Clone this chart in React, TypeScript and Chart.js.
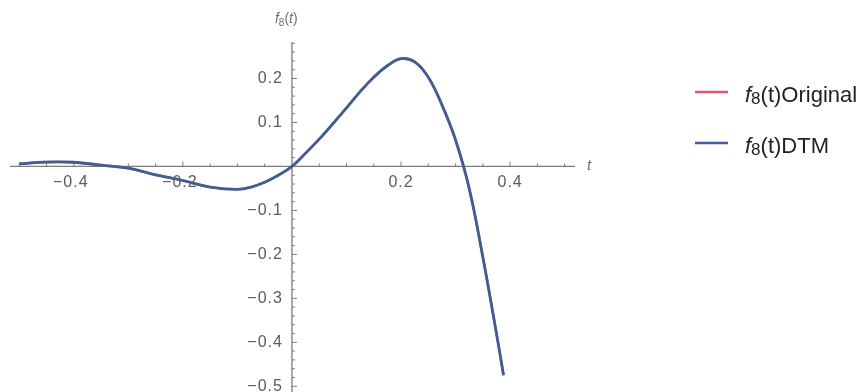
import React, { useEffect, useRef } from "react";
import { Chart, registerables } from "chart.js";

Chart.register(...registerables);

// ---- data ----
const tValues = [
  -0.5, -0.45, -0.4, -0.35, -0.3, -0.25, -0.2, -0.15, -0.1, -0.075, -0.05, -0.025,
  0, 0.025, 0.05, 0.075, 0.1, 0.125, 0.15, 0.175, 0.2, 0.225, 0.25, 0.275, 0.3,
  0.325, 0.35, 0.375, 0.388,
];
const f8Original = [
  0.006, 0.01, 0.0095, 0.003, -0.004, -0.019, -0.032, -0.047, -0.052, -0.047,
  -0.036, -0.02, 0, 0.03, 0.062, 0.097, 0.133, 0.17, 0.203, 0.229, 0.245, 0.238,
  0.203, 0.14, 0.06, -0.05, -0.206, -0.38, -0.475,
];
const f8DTM = [
  0.006, 0.01, 0.0095, 0.003, -0.004, -0.019, -0.032, -0.047, -0.052, -0.047,
  -0.036, -0.02, 0, 0.03, 0.062, 0.097, 0.133, 0.17, 0.203, 0.229, 0.245, 0.238,
  0.203, 0.14, 0.06, -0.05, -0.206, -0.38, -0.475,
];
const seriesNames = ["Original", "DTM"];
const seriesColors = ["#d9606b", "#3f5f92"];
const xTickLabels = [-0.4, -0.2, 0.2, 0.4];
const yTickLabels = [-0.5, -0.4, -0.3, -0.2, -0.1, 0.1, 0.2];
const xMinorStep = 0.05;
const xMajorEvery = 4;
const yMinorStep = 0.02;
const yMajorEvery = 5;
const X_MIN = -0.517;
const X_MAX = 0.519;
const Y_MIN = -0.513;
const Y_MAX = 0.283;

const FONT = '"Liberation Sans", Arial, sans-serif';

type Part = { t: string; font: string; dy?: number };

function drawRich(ctx: CanvasRenderingContext2D, x: number, baseline: number, parts: Part[]) {
  let cx = x;
  ctx.textBaseline = "alphabetic";
  ctx.textAlign = "left";
  for (const p of parts) {
    ctx.font = p.font;
    ctx.fillText(p.t, cx, baseline + (p.dy || 0));
    cx += ctx.measureText(p.t).width;
  }
}

function fmt(v: number) {
  return v < 0 ? "\u2212" + Math.abs(v).toFixed(1) : v.toFixed(1);
}

const axesPlugin = {
  id: "mmaAxes",
  beforeDatasetsDraw(chart: any) {
    const { ctx, chartArea } = chart;
    const x = chart.scales.x;
    const y = chart.scales.y;
    const x0 = x.getPixelForValue(0);
    const y0 = y.getPixelForValue(0);
    ctx.save();
    ctx.strokeStyle = "#7c7c7c";
    ctx.lineWidth = 1.3;
    ctx.beginPath();
    ctx.moveTo(chartArea.left, y0);
    ctx.lineTo(chartArea.right, y0);
    ctx.moveTo(x0, chartArea.top);
    ctx.lineTo(x0, chartArea.bottom);
    ctx.stroke();

    ctx.lineWidth = 1;
    ctx.beginPath();
    const xi0 = Math.ceil(X_MIN / xMinorStep);
    const xi1 = Math.floor(X_MAX / xMinorStep);
    for (let i = xi0; i <= xi1; i++) {
      if (i === 0) continue;
      const px = x.getPixelForValue(i * xMinorStep);
      const len = i % xMajorEvery === 0 ? 5 : 3;
      ctx.moveTo(px, y0);
      ctx.lineTo(px, y0 - len);
    }
    const yi0 = Math.ceil(Y_MIN / yMinorStep);
    const yi1 = Math.floor(Y_MAX / yMinorStep);
    for (let i = yi0; i <= yi1; i++) {
      if (i === 0) continue;
      const py = y.getPixelForValue(i * yMinorStep);
      const len = i % yMajorEvery === 0 ? 5 : 3;
      ctx.moveTo(x0, py);
      ctx.lineTo(x0 + len, py);
    }
    ctx.stroke();

    ctx.fillStyle = "#5c5c5c";
    ctx.font = "16px " + FONT;
    (ctx as any).letterSpacing = "1px";
    ctx.textAlign = "center";
    ctx.textBaseline = "middle";
    for (const v of xTickLabels) {
      ctx.fillText(fmt(v), x.getPixelForValue(v) - (v < 0 ? 3 : 0), y0 + 16);
    }
    ctx.textAlign = "right";
    for (const v of yTickLabels) {
      ctx.fillText(fmt(v), x0 - 9, y.getPixelForValue(v));
    }
    (ctx as any).letterSpacing = "0px";

    // axis labels
    ctx.fillStyle = "#707070";
    ctx.font = "italic 15px " + FONT;
    ctx.textAlign = "left";
    ctx.textBaseline = "middle";
    ctx.fillText("t", chartArea.right + 12, y0 - 1);
    drawRich(ctx, x0 - 17, chartArea.top - 19, [
      { t: "f", font: "italic 14px " + FONT },
      { t: "8", font: "10px " + FONT, dy: 3 },
      { t: "(", font: "14px " + FONT },
      { t: "t", font: "italic 14px " + FONT },
      { t: ")", font: "14px " + FONT },
    ]);
    ctx.restore();
  },
  afterDraw(chart: any) {
    const { ctx, chartArea } = chart;
    ctx.save();
    const lx = chartArea.right + 120;
    const rows = [92, 143];
    seriesNames.forEach((name, i) => {
      const yy = rows[i];
      ctx.strokeStyle = seriesColors[i];
      ctx.lineWidth = 2.5;
      ctx.beginPath();
      ctx.moveTo(lx, yy);
      ctx.lineTo(lx + 33, yy);
      ctx.stroke();
      ctx.fillStyle = "#222";
      drawRich(ctx, lx + 50, yy + 10, [
        { t: "f", font: "italic 22px " + FONT },
        { t: "8", font: "17px " + FONT, dy: 2 },
        { t: "(t)" + name, font: "22px " + FONT },
      ]);
    });
    ctx.restore();
  },
};

export default function App() {
  const ref = useRef<HTMLCanvasElement | null>(null);
  useEffect(() => {
    if (!ref.current) return;
    const mk = (vals: number[]) => tValues.map((t, i) => ({ x: t, y: vals[i] }));
    const chart = new Chart(ref.current, {
      type: "line",
      data: {
        datasets: [
          {
            label: "f8(t)Original",
            data: mk(f8Original),
            borderColor: seriesColors[0],
            borderWidth: 2.4,
            pointRadius: 0,
            tension: 0.4,
            order: 2,
            fill: false,
          },
          {
            label: "f8(t)DTM",
            data: mk(f8DTM),
            borderColor: seriesColors[1],
            borderWidth: 2.8,
            pointRadius: 0,
            tension: 0.4,
            order: 1,
            fill: false,
          },
        ],
      },
      options: {
        animation: false,
        responsive: false,
        maintainAspectRatio: false,
        layout: { padding: { left: 10, right: 284, top: 42, bottom: 0 } },
        plugins: { legend: { display: false }, tooltip: { enabled: false } },
        scales: {
          x: { type: "linear", min: X_MIN, max: X_MAX, display: false },
          y: { type: "linear", min: Y_MIN, max: Y_MAX, display: false },
        },
      },
      plugins: [axesPlugin],
    } as any);
    return () => chart.destroy();
  }, []);
  return (
    <div style={{ position: "absolute", left: 0, top: 0, width: 859, height: 392, background: "#fff" }}>
      <canvas ref={ref} width={859} height={392} style={{ width: 859, height: 392, display: "block" }} />
    </div>
  );
}
